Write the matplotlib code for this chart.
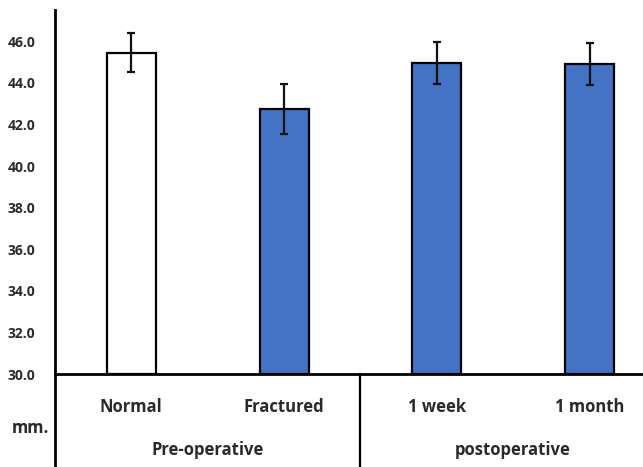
import matplotlib.pyplot as plt
from matplotlib.lines import Line2D
import matplotlib.transforms as mtransforms

plt.rcParams['font.family'] = ['Open Sans', 'DejaVu Sans']

# data
categories = ['Normal', 'Fractured', '1 week', '1 month']
means = [45.45, 42.75, 44.95, 44.9]
errors = [0.95, 1.2, 1.0, 1.0]
groups = ['Pre-operative', 'postoperative']
group_centers = [0.5, 2.5]
yticks = [30, 32, 34, 36, 38, 40, 42, 44, 46]

colors = ['white', '#4472C4', '#4472C4', '#4472C4']
x = list(range(len(categories)))

fig = plt.figure(figsize=(6.43, 4.67), dpi=100)
ax = fig.add_axes([55 / 643, 93 / 467, 1 - 55 / 643, 364 / 467])

ax.bar(x, [m - 30 for m in means], bottom=30, width=0.32, color=colors,
       edgecolor='black', linewidth=1.6, zorder=2)
ax.errorbar(x, means, yerr=errors, fmt='none', ecolor='#111111',
            elinewidth=1.6, capsize=3, capthick=1.6, zorder=3)

ax.set_ylim(30, 47.5)
ax.set_xlim(-0.5, 3.35)
ax.set_yticks(yticks)
ax.set_yticklabels(['%.1f' % t for t in yticks], fontsize=10,
                   fontweight='bold', color='#2a2a2a')
ax.tick_params(axis='y', length=0, pad=14)
ax.set_xticks([])

for s in ['top', 'right']:
    ax.spines[s].set_visible(False)
ax.spines['left'].set_linewidth(2)
ax.spines['bottom'].set_linewidth(2)

# table-like area under the axis
trans = mtransforms.blended_transform_factory(ax.transData, ax.transAxes)
bottom = -93 / 364
ax.add_line(Line2D([0, 0], [0, bottom], transform=ax.transAxes,
                   color='black', linewidth=2, clip_on=False))
ax.add_line(Line2D([1.5, 1.5], [0, bottom], transform=trans,
                   color='black', linewidth=1.6, clip_on=False))

for xi, c in zip(x, categories):
    ax.text(xi, -33 / 364, c, transform=trans, ha='center', va='center',
            fontsize=12, fontweight='bold', color='#2a2a2a')
for gx, g in zip(group_centers, groups):
    ax.text(gx, -76 / 364, g, transform=trans, ha='center', va='center',
            fontsize=12, fontweight='bold', color='#2a2a2a')

fig.text(30 / 643, 1 - 428 / 467, 'mm.', ha='center', va='center',
         fontsize=12, fontweight='bold', color='#2a2a2a')

fig.savefig('out.png', dpi=100)
